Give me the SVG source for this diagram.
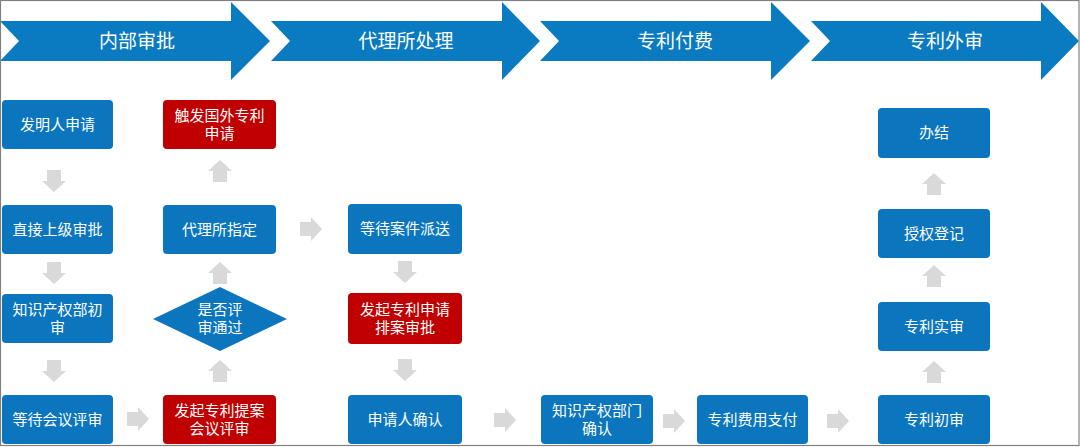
<svg xmlns="http://www.w3.org/2000/svg" xmlns:xlink="http://www.w3.org/1999/xlink" width="1080" height="447" viewBox="0 0 1080 447">
<style>
.hdr{fill:#0A7BC1}
.hdrt{fill:#fff;font-family:"Noto Sans CJK SC","Liberation Sans",sans-serif;font-size:19px;text-anchor:middle}
.b{fill:#0B76BE}
.r{fill:#C00000}
.t{fill:#fff;font-family:"Noto Sans CJK SC","Liberation Sans",sans-serif;font-size:15px;text-anchor:middle}
.ar{fill:#D9D9D9}
</style>
<defs>
<path id="arr" d="M0,-7 H11 V-12 L22,0 L11,12 V7 H0 Z"/>
</defs>
<rect x="0" y="0" width="1080" height="447" fill="#fff"/>
<g id="headers">
<g id="h1"><path class="hdr" d="M0,21 H231 V2 L270,41 L231,80 V61 H0 L19,41 Z"/><text class="hdrt" x="137" y="48">内部审批</text></g>
<g id="h2"><path class="hdr" d="M271,21 H502 V2 L540,41 L502,80 V61 H271 L290,41 Z"/><text class="hdrt" x="406" y="48">代理所处理</text></g>
<g id="h3"><path class="hdr" d="M540,21 H771 V2 L810,41 L771,80 V61 H540 L559,41 Z"/><text class="hdrt" x="675" y="48">专利付费</text></g>
<g id="h4"><path class="hdr" d="M811,21 H1041 V2 L1079,41 L1041,80 V61 H811 L830,41 Z"/><text class="hdrt" x="945" y="48">专利外审</text></g>
</g>
<g id="connectors" class="ar">
<use xlink:href="#arr" href="#arr" transform="translate(54,170) rotate(90)"/>
<use xlink:href="#arr" href="#arr" transform="translate(54,262) rotate(90)"/>
<use xlink:href="#arr" href="#arr" transform="translate(54,360) rotate(90)"/>
<use xlink:href="#arr" href="#arr" transform="translate(127,419)"/>
<use xlink:href="#arr" href="#arr" transform="translate(220,382) rotate(-90)"/>
<use xlink:href="#arr" href="#arr" transform="translate(220,284) rotate(-90)"/>
<use xlink:href="#arr" href="#arr" transform="translate(220,182) rotate(-90)"/>
<use xlink:href="#arr" href="#arr" transform="translate(300,229)"/>
<use xlink:href="#arr" href="#arr" transform="translate(405,261) rotate(90)"/>
<use xlink:href="#arr" href="#arr" transform="translate(405,359) rotate(90)"/>
<use xlink:href="#arr" href="#arr" transform="translate(494,420)"/>
<use xlink:href="#arr" href="#arr" transform="translate(663,421)"/>
<use xlink:href="#arr" href="#arr" transform="translate(827,421)"/>
<use xlink:href="#arr" href="#arr" transform="translate(934,383) rotate(-90)"/>
<use xlink:href="#arr" href="#arr" transform="translate(934,287) rotate(-90)"/>
<use xlink:href="#arr" href="#arr" transform="translate(934,195) rotate(-90)"/>
</g>
<g id="n1"><rect class="b" x="2" y="100" width="111" height="49" rx="4"/><text class="t" x="57.5" y="130">发明人申请</text></g>
<g id="n2"><rect class="b" x="2" y="205" width="111" height="49" rx="4"/><text class="t" x="57.5" y="235">直接上级审批</text></g>
<g id="n3"><rect class="b" x="2" y="294" width="111" height="49" rx="4"/><text class="t" x="57.5" y="315"><tspan x="57.5">知识产权部初</tspan><tspan x="57.5" dy="18">审</tspan></text></g>
<g id="n4"><rect class="b" x="2" y="395" width="111" height="49" rx="4"/><text class="t" x="57.5" y="425">等待会议评审</text></g>
<g id="n5"><rect class="r" x="163" y="100" width="113" height="49" rx="4"/><text class="t" x="219.5" y="121"><tspan x="219.5">触发国外专利</tspan><tspan x="219.5" dy="18">申请</tspan></text></g>
<g id="n6"><rect class="b" x="163" y="205" width="113" height="49" rx="4"/><text class="t" x="219.5" y="235">代理所指定</text></g>
<g id="n7"><path class="b" d="M220,287 L287,319 L220,351 L153,319 Z"/><text class="t" x="220" y="314.5"><tspan x="220">是否评</tspan><tspan x="220" dy="18">审通过</tspan></text></g>
<g id="n8"><rect class="r" x="163" y="395" width="113" height="49" rx="4"/><text class="t" x="219.5" y="416"><tspan x="219.5">发起专利提案</tspan><tspan x="219.5" dy="18">会议评审</tspan></text></g>
<g id="n9"><rect class="b" x="348" y="204" width="114" height="50" rx="4"/><text class="t" x="405" y="234">等待案件派送</text></g>
<g id="n10"><rect class="r" x="348" y="293" width="114" height="51" rx="4"/><text class="t" x="405" y="315"><tspan x="405">发起专利申请</tspan><tspan x="405" dy="18">排案审批</tspan></text></g>
<g id="n11"><rect class="b" x="348" y="395" width="114" height="49" rx="4"/><text class="t" x="405" y="425">申请人确认</text></g>
<g id="n12"><rect class="b" x="541" y="395" width="112" height="49" rx="4"/><text class="t" x="597" y="416"><tspan x="597">知识产权部门</tspan><tspan x="597" dy="18">确认</tspan></text></g>
<g id="n13"><rect class="b" x="697" y="395" width="111" height="49" rx="4"/><text class="t" x="752.5" y="425">专利费用支付</text></g>
<g id="n14"><rect class="b" x="878" y="395" width="112" height="49" rx="4"/><text class="t" x="934" y="425">专利初审</text></g>
<g id="n15"><rect class="b" x="878" y="302" width="112" height="49" rx="4"/><text class="t" x="934" y="332">专利实审</text></g>
<g id="n16"><rect class="b" x="878" y="209" width="112" height="49" rx="4"/><text class="t" x="934" y="239">授权登记</text></g>
<g id="n17"><rect class="b" x="878" y="108" width="112" height="50" rx="4"/><text class="t" x="934" y="138">办结</text></g>
<rect x="0.5" y="0.5" width="1078.5" height="445" fill="none" stroke="#808080" stroke-width="1.2"/>
</svg>
